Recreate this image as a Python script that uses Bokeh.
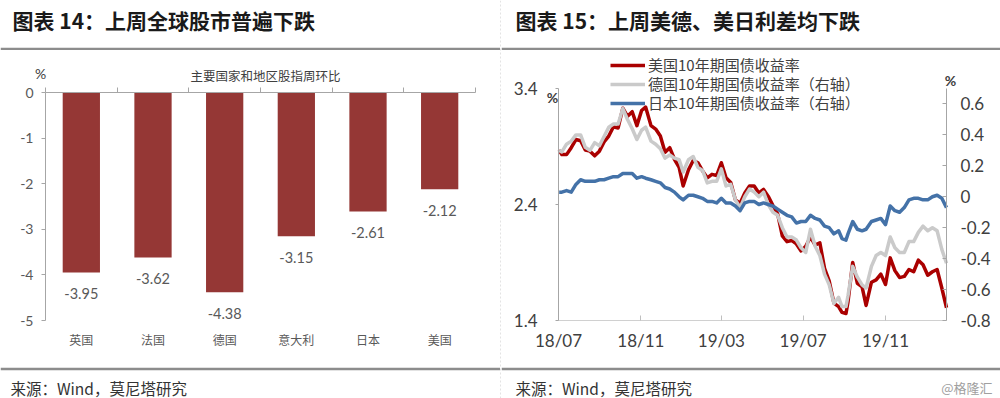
import pandas as pd
from bokeh.plotting import figure
from bokeh.models import (Range1d, LinearAxis, FixedTicker, Label, Legend,
                          LegendItem, Span, BoxAnnotation, CustomJSTickFormatter)
from bokeh.layouts import row, column
from bokeh.embed import file_html
from bokeh.resources import INLINE
from bokeh.core.properties import value

CJK = "Noto Sans CJK SC"
NUM = "Lato"

# ---------------- data: left chart ----------------
countries = ["英国", "法国", "德国", "意大利", "日本", "美国"]
weekly_change = [-3.95, -3.62, -4.38, -3.15, -2.61, -2.12]
bar_y_ticks = [-5, -4, -3, -2, -1, 0]

# ---------------- data: right chart ----------------
dates = [
    "2018-07-02", "2018-07-06", "2018-07-13", "2018-07-20", "2018-07-27", "2018-08-03",
    "2018-08-10", "2018-08-17", "2018-08-24", "2018-08-31", "2018-09-07", "2018-09-14",
    "2018-09-21", "2018-09-28", "2018-10-05", "2018-10-12", "2018-10-19", "2018-10-26",
    "2018-11-02", "2018-11-08", "2018-11-16", "2018-11-23", "2018-11-30", "2018-12-07",
    "2018-12-14", "2018-12-21", "2018-12-28", "2019-01-03", "2019-01-11", "2019-01-18",
    "2019-01-25", "2019-02-01", "2019-02-08", "2019-02-15", "2019-02-22", "2019-03-01",
    "2019-03-08", "2019-03-15", "2019-03-22", "2019-03-29", "2019-04-05", "2019-04-12",
    "2019-04-19", "2019-04-26", "2019-05-03", "2019-05-10", "2019-05-17", "2019-05-24",
    "2019-05-31", "2019-06-07", "2019-06-14", "2019-06-21", "2019-06-28", "2019-07-05",
    "2019-07-12", "2019-07-19", "2019-07-26", "2019-08-02", "2019-08-09", "2019-08-16",
    "2019-08-23", "2019-08-28", "2019-09-03", "2019-09-06", "2019-09-13", "2019-09-20",
    "2019-09-27", "2019-10-03", "2019-10-11", "2019-10-18", "2019-10-25", "2019-11-01",
    "2019-11-08", "2019-11-15", "2019-11-22", "2019-11-29", "2019-12-06", "2019-12-13",
    "2019-12-20", "2019-12-27", "2020-01-03", "2020-01-10", "2020-01-17", "2020-01-24",
    "2020-01-31",
]
us10y = [
    2.87, 2.83, 2.83, 2.89, 2.96, 2.95,
    2.87, 2.86, 2.82, 2.86, 2.94, 2.99,
    3.07, 3.06, 3.23, 3.16, 3.20, 3.08,
    3.21, 3.24, 3.08, 3.05, 2.99, 2.85,
    2.89, 2.79, 2.72, 2.56, 2.70, 2.78,
    2.76, 2.69, 2.63, 2.66, 2.65, 2.76,
    2.63, 2.59, 2.44, 2.41, 2.50, 2.56,
    2.56, 2.50, 2.53, 2.47, 2.39, 2.32,
    2.13, 2.08, 2.09, 2.06, 2.00, 2.04,
    2.12, 2.05, 2.07, 1.85, 1.74, 1.55,
    1.52, 1.47, 1.46, 1.56, 1.90, 1.72,
    1.69, 1.53, 1.73, 1.75, 1.80, 1.71,
    1.94, 1.83, 1.77, 1.78, 1.84, 1.82,
    1.92, 1.88, 1.79, 1.82, 1.84, 1.68,
    1.51,
]
de10y = [
    0.30, 0.29, 0.34, 0.36, 0.40, 0.40,
    0.32, 0.30, 0.35, 0.33, 0.39, 0.45,
    0.47, 0.47, 0.57, 0.50, 0.44, 0.37,
    0.43, 0.45, 0.36, 0.34, 0.31, 0.25,
    0.27, 0.25, 0.24, 0.16, 0.24, 0.26,
    0.19, 0.17, 0.09, 0.10, 0.10, 0.18,
    0.07, 0.08, -0.02, -0.07, 0.00, 0.05,
    0.03, 0.00, 0.03, -0.05, -0.10, -0.12,
    -0.20, -0.26, -0.26, -0.28, -0.33, -0.36,
    -0.21, -0.32, -0.38, -0.50, -0.57, -0.69,
    -0.65, -0.71, -0.71, -0.64, -0.45, -0.52,
    -0.57, -0.59, -0.45, -0.38, -0.36, -0.38,
    -0.26, -0.33, -0.36, -0.36, -0.29, -0.29,
    -0.23, -0.19, -0.22, -0.20, -0.22, -0.34,
    -0.43,
]
jp10y = [
    0.03, 0.03, 0.04, 0.03, 0.08, 0.11,
    0.10, 0.10, 0.10, 0.11, 0.11, 0.12,
    0.13, 0.13, 0.15, 0.15, 0.15, 0.12,
    0.13, 0.12, 0.11, 0.10, 0.09, 0.06,
    0.05, 0.03, 0.00, -0.02, 0.01, 0.01,
    0.00, -0.01, -0.03, -0.03, -0.04, -0.01,
    -0.04, -0.04, -0.06, -0.09, -0.04, -0.03,
    -0.03, -0.05, -0.04, -0.05, -0.06, -0.08,
    -0.10, -0.12, -0.13, -0.17, -0.16, -0.16,
    -0.12, -0.14, -0.15, -0.19, -0.20, -0.24,
    -0.22, -0.27, -0.28, -0.24, -0.16, -0.21,
    -0.22, -0.21, -0.16, -0.15, -0.14, -0.18,
    -0.06, -0.09, -0.10, -0.07, -0.02, -0.01,
    -0.01, -0.02, -0.02, 0.00, 0.01, -0.01,
    -0.07,
]
date_ticks = ["2018-07-01", "2018-11-01", "2019-03-01", "2019-07-01", "2019-11-01"]
x_start_str, x_end_str = "2018-07-01", "2020-01-31"
left_ticks = [1.4, 2.4, 3.4]
right_ticks = [-0.8, -0.6, -0.4, -0.2, 0.0, 0.2, 0.4, 0.6]
left_lim = (1.4, 3.4)
right_lim = (-0.8, 0.7)
series_names = ["美国10年期国债收益率", "德国10年期国债收益率（右轴）", "日本10年期国债收益率（右轴）"]

GRAY_AX = "#a6a6a6"
TXT = "#404040"
RULE = "#8c8c8c"

# page geometry (window pixels)
LW, RW = 500, 499          # widths of the two panels
TH, CH, FH = 50, 317, 31   # title, chart, footer heights
FRAME_TOP_PX, FRAME_BOT_PX = 52, 362   # page y of chart frames (drawing area)


def strip(width, height):
    p = figure(width=width, height=height, x_range=Range1d(0, width), y_range=Range1d(0, height),
               output_backend="svg", toolbar_location=None, min_border=0,
               x_axis_type=None, y_axis_type=None, outline_line_color=None)
    p.grid.visible = False
    return p


def title_fig(width, x, text):
    p = strip(width, TH)
    p.add_layout(BoxAnnotation(left=0, right=width, bottom=0, top=2.8, fill_color=RULE,
                               fill_alpha=1, line_alpha=0))
    p.add_layout(Label(x=x, y=TH - 19, text=text, text_font=CJK, text_font_style="bold",
                       text_font_size="21px", text_color="#1a1a1a", text_baseline="middle"))
    return p


def foot_fig(width, x, watermark=False):
    p = strip(width, FH)
    p.add_layout(BoxAnnotation(left=0, right=width, bottom=FH - 2.8, top=FH, fill_color=RULE,
                               fill_alpha=1, line_alpha=0))
    p.add_layout(Label(x=x, y=FH - 20, text="来源：Wind，莫尼塔研究", text_font=CJK,
                       text_font_size="15.5px", text_color="#333333", text_baseline="middle"))
    if watermark:
        p.add_layout(Label(x=width - 8, y=FH - 20, text="@格隆汇", text_font=CJK,
                           text_font_size="13px", text_color="#a0a0a0", text_align="right",
                           text_baseline="middle"))
    return p


B_TOP = FRAME_TOP_PX - TH
B_BOT = TH + CH - FRAME_BOT_PX

# ---------------- left chart ----------------
n_cat = len(countries)
centers = [i + 0.5 for i in range(n_cat)]
# categories span page x 45..475, value 0 at page y 92, -5 at page y 320
cat_px = (475 - 45) / n_cat
val_px = (320 - 92) / 5.0


def lx(px):
    return (px - 45) / cat_px


def lyv(py):
    return -(py - 92) / val_px


pL = figure(width=LW, height=CH, x_range=Range1d(lx(0), lx(LW)),
            y_range=Range1d(lyv(FRAME_BOT_PX), lyv(FRAME_TOP_PX)),
            output_backend="svg", toolbar_location=None, outline_line_color=None,
            min_border_left=0, min_border_right=0, min_border_top=B_TOP, min_border_bottom=B_BOT)
pL.grid.visible = False
pL.vbar(x=centers, top=weekly_change, bottom=0, width=0.52, fill_color="#953735", line_color=None)
pL.text(x=centers, y=weekly_change, text=[f"{v:.2f}" for v in weekly_change],
        text_align="center", text_baseline="middle", y_offset=21,
        text_font=value(NUM), text_font_size="14.5px", text_color="#595959")

xa = pL.xaxis[0]
xa.fixed_location = -5
xa.ticker = FixedTicker(ticks=centers)
xa.formatter = CustomJSTickFormatter(args={"names": countries},
                                     code="return names[Math.floor(tick)];")
xa.axis_line_color = None
xa.major_tick_line_color = None
xa.minor_tick_line_color = None
xa.major_label_text_font = CJK
xa.major_label_text_font_size = "12px"
xa.major_label_text_color = "#595959"
xa.major_label_standoff = 4

top_ax = LinearAxis(ticker=FixedTicker(ticks=list(range(n_cat + 1))),
                    formatter=CustomJSTickFormatter(code="return '';"),
                    fixed_location=0, bounds=(0, n_cat),
                    major_tick_out=5, major_tick_in=0, axis_line_color=GRAY_AX,
                    major_tick_line_color=GRAY_AX, minor_tick_line_color=None,
                    major_label_text_font_size="1px", major_label_standoff=0)
pL.add_layout(top_ax, "above")

ya = pL.yaxis[0]
ya.fixed_location = 0
ya.bounds = (-5, 0)
ya.ticker = FixedTicker(ticks=bar_y_ticks)
ya.formatter = CustomJSTickFormatter(code="return tick.toFixed(0);")
ya.axis_line_color = GRAY_AX
ya.major_tick_line_color = GRAY_AX
ya.major_tick_out = 4
ya.major_tick_in = 0
ya.minor_tick_line_color = None
ya.major_label_text_font = NUM
ya.major_label_text_font_size = "14px"
ya.major_label_text_color = "#595959"
ya.major_label_standoff = 8

pL.add_layout(Label(x=lx(40), y=lyv(73), text="%", text_font=NUM, text_font_size="14px",
                    text_color=TXT, text_align="center", text_baseline="middle"))
pL.add_layout(Label(x=lx(265), y=lyv(75), text="主要国家和地区股指周环比", text_font=CJK,
                    text_font_size="12.5px", text_color=TXT, text_align="center",
                    text_baseline="middle"))

# ---------------- right chart ----------------
dt = pd.to_datetime(dates)
X0 = pd.Timestamp(x_start_str).value / 1e6
X1 = pd.Timestamp(x_end_str).value / 1e6
ms_per_px = (X1 - X0) / (946 - 558)
lpx = (320 - 88) / (left_lim[1] - left_lim[0])
rpx = (320 - 88) / (right_lim[1] - right_lim[0])


def rx(px):       # page x -> data
    return X0 + (px - 558) * ms_per_px


def ryl(py):      # page y -> left axis value
    return left_lim[0] + (320 - py) / lpx


def ryr(py):      # page y -> right axis value
    return right_lim[0] + (320 - py) / rpx


pR = figure(width=RW, height=CH, x_axis_type="datetime",
            x_range=Range1d(rx(501), rx(501 + RW)),
            y_range=Range1d(ryl(FRAME_BOT_PX), ryl(FRAME_TOP_PX)),
            output_backend="svg", toolbar_location=None, outline_line_color=None,
            min_border_left=0, min_border_right=0, min_border_top=B_TOP, min_border_bottom=B_BOT)
pR.grid.visible = False
pR.extra_y_ranges = {"right": Range1d(ryr(FRAME_BOT_PX), ryr(FRAME_TOP_PX))}

r_us = pR.line(dt, us10y, line_color="#AA0000", line_width=3.5, line_join="round")
r_de = pR.line(dt, de10y, y_range_name="right", line_color="#CACACA", line_width=3.5,
               line_join="round")
r_jp = pR.line(dt, jp10y, y_range_name="right", line_color="#4472A8", line_width=3.5,
               line_join="round")

bx = pR.xaxis[0]
bx.fixed_location = left_lim[0]
bx.bounds = (X0, X1)
bx.ticker = FixedTicker(ticks=[pd.Timestamp(d).value / 1e6 for d in date_ticks])
bx.formatter = CustomJSTickFormatter(code="""
const d = new Date(tick);
return String(d.getUTCFullYear()).slice(2) + '/' + String(d.getUTCMonth() + 1).padStart(2, '0');
""")
bx.axis_line_color = "#d0d0d0"
bx.major_tick_line_color = "#bfbfbf"
bx.major_tick_in = 5
bx.major_tick_out = 0
bx.minor_tick_line_color = None
bx.major_label_text_font = NUM
bx.major_label_text_font_size = "17px"
bx.major_label_text_color = TXT
bx.major_label_standoff = 9

ly = pR.yaxis[0]
ly.fixed_location = X0
ly.bounds = left_lim
ly.ticker = FixedTicker(ticks=left_ticks)
ly.formatter = CustomJSTickFormatter(code="return tick.toFixed(1);")
ly.axis_line_color = GRAY_AX
ly.major_tick_line_color = GRAY_AX
ly.major_tick_out = 3
ly.major_tick_in = 0
ly.minor_tick_line_color = None
ly.major_label_text_font = NUM
ly.major_label_text_font_size = "17px"
ly.major_label_text_color = TXT
ly.major_label_standoff = 18

ry = LinearAxis(y_range_name="right", ticker=FixedTicker(ticks=right_ticks),
                fixed_location=X1, bounds=right_lim,
                formatter=CustomJSTickFormatter(
                    code="return Math.abs(tick) < 1e-9 ? '0' : tick.toFixed(1);"),
                axis_line_color=GRAY_AX, major_tick_line_color=GRAY_AX,
                major_tick_in=4, major_tick_out=0, minor_tick_line_color=None,
                major_label_text_font=NUM, major_label_text_font_size="17px",
                major_label_text_color=TXT, major_label_standoff=14)
pR.add_layout(ry, "right")

pR.add_layout(Label(x=rx(552), y=ryl(97), text="%", text_font=NUM,
                    text_font_size="14px", text_font_style="bold", text_color=TXT,
                    text_align="center", text_baseline="middle"))
pR.add_layout(Label(x=rx(950), y=ryr(80), y_range_name="right", text="%",
                    text_font=NUM, text_font_size="14px", text_font_style="bold",
                    text_color=TXT, text_align="center", text_baseline="middle"))

# one legend per row, so the rows can sit as tightly as in the reference
ITEM_H = 20
for name, rend, row_center in zip(series_names, [r_us, r_de, r_jp], [65, 84, 103]):
    lg = Legend(items=[LegendItem(label=name, renderers=[rend])],
                location=(610 - 501, FRAME_BOT_PX - (row_center + ITEM_H / 2)),
                orientation="vertical", glyph_width=35, glyph_height=ITEM_H,
                label_height=ITEM_H, spacing=0, padding=0, margin=0, label_standoff=3,
                background_fill_alpha=0, border_line_alpha=0, label_text_font=CJK,
                label_text_font_size="15px", label_text_color=TXT)
    pR.add_layout(lg)

# ---------------- page layout ----------------
sep = figure(width=1, height=TH + CH + FH, x_range=Range1d(0, 1), y_range=Range1d(0, 1),
             output_backend="svg", toolbar_location=None, min_border=0,
             x_axis_type=None, y_axis_type=None, outline_line_color=None)
sep.grid.visible = False
sep.add_layout(Span(location=0.5, dimension="height", line_color="#909090", line_width=1,
                    line_dash="2 2"))

left_col = column(title_fig(LW, 12, "图表 14：上周全球股市普遍下跌"), pL, foot_fig(LW, 10))
right_col = column(title_fig(RW, 14, "图表 15：上周美德、美日利差均下跌"), pR,
                   foot_fig(RW, 14, watermark=True))
layout = row(left_col, sep, right_col)

open("out.html", "w").write(file_html(layout, INLINE))
